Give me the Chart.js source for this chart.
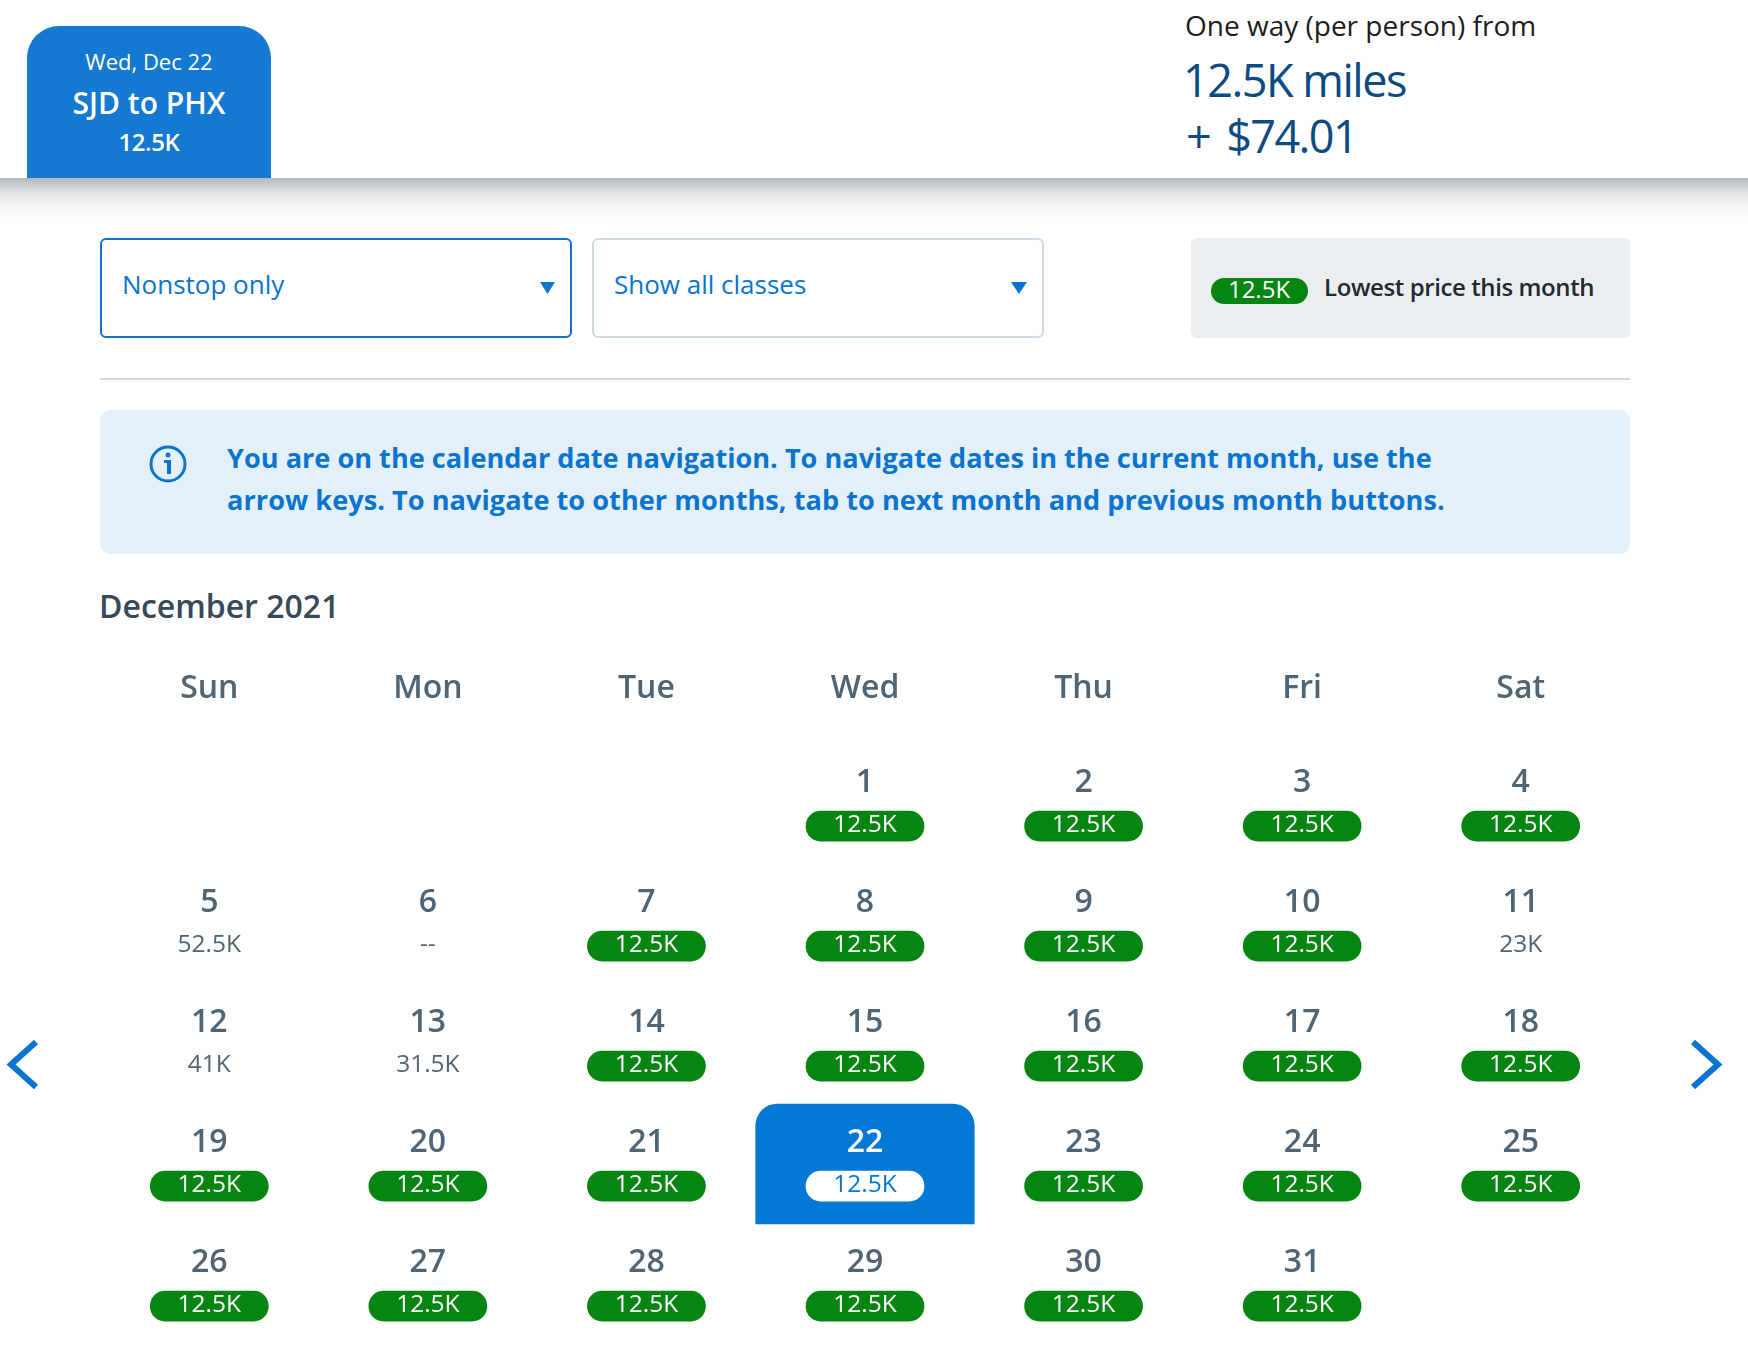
<!DOCTYPE html>
<html>
<head>
<meta charset="utf-8">
<title>SJD to PHX</title>
<script src="https://cdn.jsdelivr.net/npm/chart.js@4"></script>
<style>
  html, body { margin: 0; padding: 0; background: #fff; }
  body { position: relative; width: 1748px; height: 1352px; overflow: hidden; font-family: "Open Sans", sans-serif; }
  .abs { position: absolute; white-space: nowrap; line-height: 1; }
  .box { position: absolute; box-sizing: border-box; }
  .mid { transform: translateY(-50%); }
  .ctr { transform: translate(-50%, -50%); }
  #calendar { position: absolute; left: 0; top: 630px; width: 1748px; height: 722px; }
  svg { position: absolute; left: 0; top: 0; }
</style>
</head>
<body>
<div class="box" style="left:27px;top:26px;width:244px;height:152px;background:#1479d0;border-radius:32px 32px 0 0"></div>
<div class="abs ctr" style="left:149px;top:61px;font-size:22px;color:#fff">Wed, Dec 22</div>
<div class="abs ctr" style="left:149px;top:103px;font-size:30px;font-weight:600;color:#fff">SJD to PHX</div>
<div class="abs ctr" style="left:149px;top:142px;font-size:24px;font-weight:600;letter-spacing:-0.4px;color:#fff">12.5K</div>
<div class="abs mid" style="left:1185px;top:25px;font-size:28px;color:#1c1c1c">One way (per person) from</div>
<div class="abs mid" style="left:1183px;top:79px;font-size:45px;letter-spacing:-1.5px;color:#0b4a82">12.5K miles</div>
<div class="abs mid" style="left:1186px;top:135px;font-size:45px;letter-spacing:-1.6px;word-spacing:6px;color:#0b4a82">+ $74.01</div>
<div class="box" style="left:0;top:178px;width:1748px;height:42px;background:linear-gradient(#b3b8ba,#e2e4e5 35%,#f8f9f9 75%,#fff)"></div>

<div class="box" style="left:100px;top:238px;width:472px;height:100px;border:2px solid #0a74cf;border-radius:6px"></div>
<div class="abs mid" style="left:122px;top:284px;font-size:26px;color:#0a74cf">Nonstop only</div>
<div class="box" style="left:592px;top:238px;width:452px;height:100px;border:2px solid #d0dae2;border-radius:6px"></div>
<div class="abs mid" style="left:614px;top:284px;font-size:26px;color:#0a74cf">Show all classes</div>
<div class="box" style="left:1191px;top:238px;width:439px;height:100px;background:#ebeef0;border-radius:6px"></div>
<div class="box" style="left:1211px;top:278px;width:97px;height:26px;background:#068512;border-radius:13px"></div>
<div class="abs ctr" style="left:1259px;top:289px;font-size:24px;color:#fff">12.5K</div>
<div class="abs mid" style="left:1324px;top:287px;font-size:24px;font-weight:600;letter-spacing:-0.4px;color:#1f2a30">Lowest price this month</div>
<div class="box" style="left:100px;top:378px;width:1530px;height:2px;background:#d0dae2"></div>
<div class="box" style="left:100px;top:410px;width:1530px;height:144px;background:#e3f0fa;border-radius:10px"></div>
<div class="abs mid" style="left:227px;top:458px;font-size:27.150px;font-weight:700;color:#0a74cf">You are on the calendar date navigation. To navigate dates in the current month, use the</div>
<div class="abs mid" style="left:227px;top:500px;font-size:27.150px;font-weight:700;letter-spacing:0.03px;color:#0a74cf">arrow keys. To navigate to other months, tab to next month and previous month buttons.</div>
<div class="abs mid" style="left:99px;top:606px;font-size:32px;font-weight:600;color:#36495a">December 2021</div>

<svg width="1748" height="1352" viewBox="0 0 1748 1352">
  <path d="M540 282h15l-7.500 12z" fill="#0a74cf"/>
  <path d="M1011 282h16l-8 12z" fill="#0a74cf"/>
  <circle cx="168" cy="464" r="17" fill="none" stroke="#0a74cf" stroke-width="3"/>
  <circle cx="168" cy="455" r="2.500" fill="#0a74cf"/>
  <path d="M164 460h7v14h-4v-11h-3z" fill="#0a74cf"/>
  <path d="M36 1042L11 1064.500L36 1087" fill="none" stroke="#0a74cf" stroke-width="6"/>
  <path d="M1693 1042L1718 1064.500L1693 1087" fill="none" stroke="#0a74cf" stroke-width="6"/>
</svg>

<div id="calendar"><canvas id="cal"></canvas></div>

<script>
const weekdays = ['Sun', 'Mon', 'Tue', 'Wed', 'Thu', 'Fri', 'Sat'];
const dayNumbers = [1, 2, 3, 4, 5, 6, 7, 8, 9, 10, 11, 12, 13, 14, 15, 16, 17, 18, 19, 20, 21, 22, 23, 24, 25, 26, 27, 28, 29, 30, 31];
const milesK = [12.5, 12.5, 12.5, 12.5, 52.5, null, 12.5, 12.5, 12.5, 12.5, 23, 41, 31.5, 12.5, 12.5, 12.5, 12.5, 12.5, 12.5, 12.5, 12.5, 12.5, 12.5, 12.5, 12.5, 12.5, 12.5, 12.5, 12.5, 12.5, 12.5];
const firstWeekday = 3;
const selectedDay = 22;

const GREY = '#4f6474';
const BLUE = '#0378d4';
const GREEN = '#068512';
const FONT = '"Open Sans", sans-serif';

const lowest = Math.min(...milesK.filter(v => v !== null));
const cells = dayNumbers.map((day, i) => ({
    day,
    miles: milesK[i],
    x: weekdays[(i + firstWeekday) % 7],
    row: Math.floor((i + firstWeekday) / 7)
}));
// pill sits in the lower part of each 120px row
const pill = c => ({ x: c.x, y: [c.row + 0.559, c.row + 0.809] });
const isSelected = c => c.day === selectedDay;

const cellText = {
    id: 'cellText',
    afterDatasetsDraw(chart) {
        const { ctx, scales: { x, y } } = chart;
        ctx.save();
        ctx.textAlign = 'center';
        ctx.textBaseline = 'middle';
        cells.forEach(c => {
            const cx = x.getPixelForValue(weekdays.indexOf(c.x));
            const sel = isSelected(c);
            ctx.font = '600 32px ' + FONT;
            ctx.fillStyle = sel ? '#fff' : GREY;
            ctx.fillText(String(c.day), cx, y.getPixelForValue(c.row + 0.322));
            const low = c.miles === lowest;
            ctx.font = '24.500px ' + FONT;
            ctx.fillStyle = sel ? BLUE : low ? '#fff' : GREY;
            const label = c.miles === null ? '--' : c.miles + 'K';
            ctx.fillText(label, cx, y.getPixelForValue(c.row + 0.676));
        });
        ctx.restore();
    }
};

new Chart(document.getElementById('cal'), {
    type: 'bar',
    data: {
        labels: weekdays,
        datasets: [
            {
                label: 'Selected price',
                data: cells.filter(isSelected).map(pill),
                backgroundColor: '#fff',
                barThickness: 118,
                borderRadius: 15,
                borderSkipped: false,
                grouped: false
            },
            {
                label: 'Lowest price',
                data: cells.filter(c => c.miles === lowest && !isSelected(c)).map(pill),
                backgroundColor: GREEN,
                barThickness: 118,
                borderRadius: 15,
                borderSkipped: false,
                grouped: false
            },
            {
                label: 'Selected day',
                data: cells.filter(isSelected).map(c => ({ x: c.x, y: [c.row, c.row + 1] })),
                backgroundColor: BLUE,
                barPercentage: 1,
                categoryPercentage: 1,
                borderRadius: { topLeft: 22, topRight: 22, bottomLeft: 0, bottomRight: 0 },
                borderSkipped: false,
                grouped: false
            }
        ]
    },
    plugins: [cellText],
    options: {
        responsive: true,
        maintainAspectRatio: false,
        animation: false,
        layout: { padding: { left: 100, right: 118, top: 4, bottom: 8 } },
        plugins: { legend: { display: false }, tooltip: { enabled: false } },
        scales: {
            x: {
                position: 'top',
                grid: { display: false, drawTicks: false },
                border: { display: false },
                afterFit: scale => { scale.height = 110; },
                ticks: { color: GREY, padding: 35.500, font: { family: FONT, size: 32, weight: '600' } }
            },
            y: { display: false, reverse: true, min: 0, max: 5 }
        }
    }
});
</script>
</body>
</html>
